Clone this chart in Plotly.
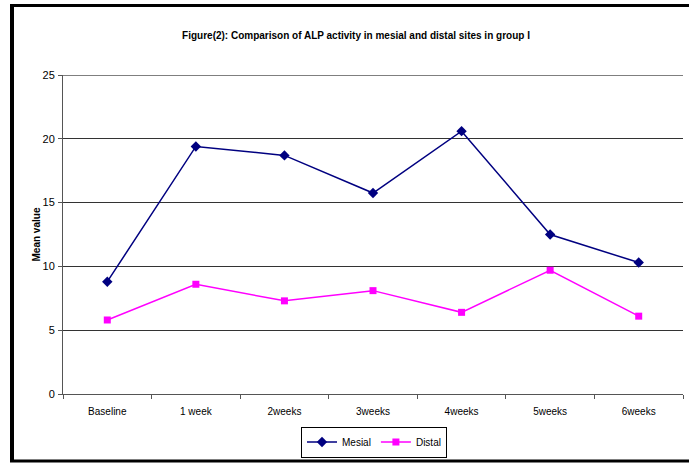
import plotly.graph_objects as go

categories = ["Baseline", "1 week", "2weeks", "3weeks", "4weeks", "5weeks", "6weeks"]
mesial = [8.8, 19.4, 18.7, 15.75, 20.6, 12.5, 10.3]
distal = [5.8, 8.6, 7.3, 8.1, 6.4, 9.7, 6.1]
y_ticks = [0, 5, 10, 15, 20, 25]

W, H = 689, 463
L, R, T, B = 63, 6, 75, 69
pw, ph = W - L - R, H - T - B

def px(x):
    return (x - L) / pw

def py(y):
    return (H - B - y) / ph

font = "Liberation Sans, Arial, sans-serif"

fig = go.Figure()
fig.add_trace(go.Scatter(
    x=categories, y=mesial, name="Mesial", mode="lines+markers",
    line=dict(color="#000080", width=1.5),
    marker=dict(symbol="diamond", size=8, color="#000080"),
))
fig.add_trace(go.Scatter(
    x=categories, y=distal, name="Distal", mode="lines+markers",
    line=dict(color="#FF00FF", width=1.5),
    marker=dict(symbol="square", size=7, color="#FF00FF"),
))

fig.update_layout(
    width=W, height=H,
    margin=dict(l=L, r=R, t=T, b=B, autoexpand=False),
    paper_bgcolor="white", plot_bgcolor="white",
    font=dict(family=font, size=10, color="black"),
    title=dict(text="<b>Figure(2): Comparison of ALP activity in mesial and distal sites in group I</b>",
               xref="container", x=356 / W, xanchor="center",
               yref="container", y=1 - 35 / H, yanchor="middle",
               font=dict(size=10, family=font)),
    showlegend=True,
    legend=dict(orientation="h", x=px(374), xanchor="center", y=py(442), yanchor="middle",
                bordercolor="black", borderwidth=1, bgcolor="white",
                font=dict(size=10, family=font), itemwidth=30,
                tracegroupgap=0),
    xaxis=dict(type="category", showgrid=False, showline=True, linecolor="#555", linewidth=1,
               ticks="outside", ticklen=4, tickcolor="#555", tickson="boundaries",
               tickfont=dict(size=10, family=font), ticklabelstandoff=8,
               range=[-0.5, 6.5], fixedrange=True),
    yaxis=dict(range=[0, 25], tickvals=y_ticks, showgrid=True, gridcolor="#333", gridwidth=1,
               showline=True, linecolor="#555", linewidth=1, ticks="outside", ticklen=4,
               tickcolor="#555", tickfont=dict(size=11, family=font), zeroline=False,
               ticklabelstandoff=1,
               title=dict(text="<b>Mean value</b>", font=dict(size=10, family=font), standoff=0)),
)

# top gridline (Plotly clips gridlines at the range edge)
fig.add_shape(type="line", xref="paper", yref="y", x0=0, x1=1, y0=y_ticks[-1], y1=y_ticks[-1],
              line=dict(color="#555", width=1.5), layer="below")

# outer chart frame (black border, as in the source image)
fig.add_shape(type="line", xref="paper", yref="paper", line=dict(color="black", width=4),
              x0=px(12), x1=px(12), y0=py(4), y1=py(462))
fig.add_shape(type="line", xref="paper", yref="paper", line=dict(color="black", width=3),
              x0=px(10), x1=px(689), y0=py(5.5), y1=py(5.5))
fig.add_shape(type="line", xref="paper", yref="paper", line=dict(color="black", width=3),
              x0=px(10), x1=px(689), y0=py(461), y1=py(461))

fig.write_html("out.html")
